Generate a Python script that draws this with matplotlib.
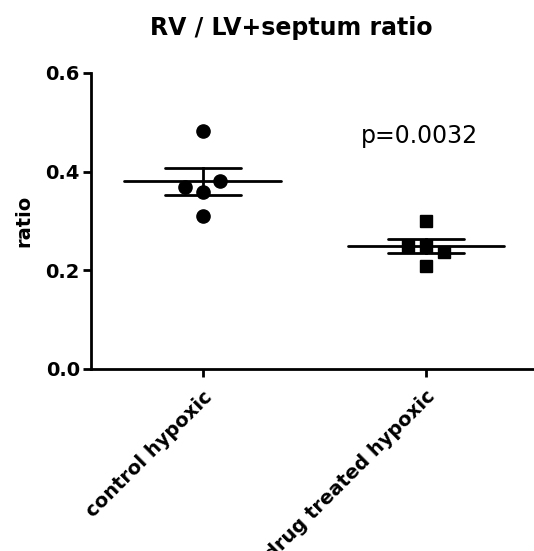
import matplotlib
matplotlib.use("Agg")
import matplotlib.pyplot as plt
import numpy as np

plt.rcParams['font.family'] = ['DejaVu Sans']

# data
groups = ["control hypoxic", "drug treated hypoxic"]
control_vals = [0.482, 0.369, 0.359, 0.381, 0.310]
control_jit = [0.0, -0.08, 0.0, 0.08, 0.0]
drug_vals = [0.301, 0.250, 0.250, 0.238, 0.209]
drug_jit = [0.0, -0.08, 0.0, 0.08, 0.0]
p_text = "p=0.0032"

fig = plt.figure(figsize=(5.34, 5.51), dpi=100)
ax = fig.add_axes([91 / 534, 1 - 369 / 551, 442 / 534, 296 / 551])

series = [(control_vals, control_jit, 'o', 9.5), (drug_vals, drug_jit, 's', 8)]
for i, (vals, jit, mk, ms) in enumerate(series):
    vals = np.array(vals)
    xs = i + np.array(jit)
    ax.plot(xs, vals, linestyle='none', marker=mk, markersize=ms, color='black', zorder=3)
    m = vals.mean()
    sem = vals.std(ddof=1) / np.sqrt(len(vals))
    ax.plot([i - 0.35, i + 0.35], [m, m], color='black', lw=2, solid_capstyle='round')
    ax.plot([i, i], [m - sem, m + sem], color='black', lw=2)
    for y in (m - sem, m + sem):
        ax.plot([i - 0.17, i + 0.17], [y, y], color='black', lw=2, solid_capstyle='round')

ax.text(0.97, 0.472, p_text, ha='center', va='center', fontsize=17)

ax.set_xlim(-0.5, 1.48)
ax.set_ylim(0, 0.6)
ax.set_yticks([0.0, 0.2, 0.4, 0.6])
ax.set_yticklabels(["0.0", "0.2", "0.4", "0.6"], fontweight='bold', fontsize=14)
ax.set_xticks([0, 1])
ax.set_xticklabels(groups, rotation=45, ha='right', rotation_mode='anchor',
                   fontweight='bold', fontsize=14)
ax.tick_params(axis='x', pad=7)
ax.spines['top'].set_visible(False)
ax.spines['right'].set_visible(False)
for s in ('left', 'bottom'):
    ax.spines[s].set_linewidth(2)
ax.tick_params(width=2, length=6, direction='out')
ax.tick_params(axis='y', pad=2)
ax.set_ylabel("ratio", fontweight='bold', fontsize=14)
ax.yaxis.set_label_coords(-0.13, 0.5)
fig.text(291.5 / 534, 1 - 28 / 551, "RV / LV+septum ratio", ha='center', va='center',
         fontweight='bold', fontsize=17)

fig.savefig("out.png", dpi=100)
